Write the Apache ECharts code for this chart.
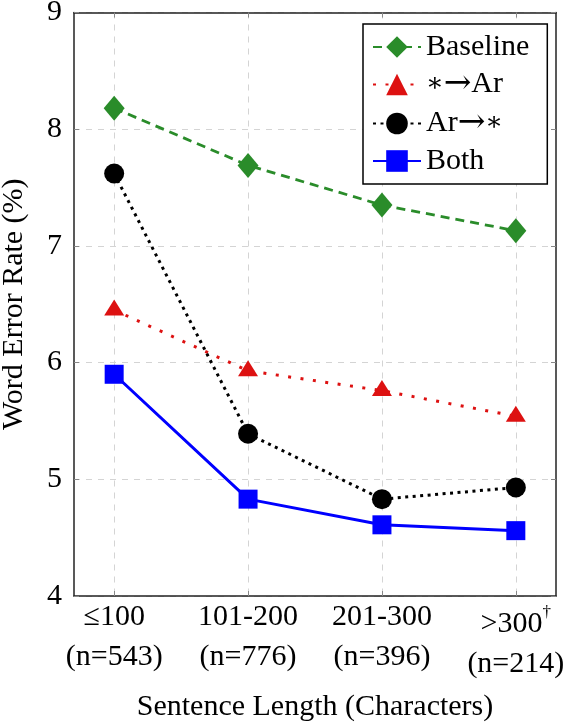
<!DOCTYPE html>
<html>
<head>
<meta charset="utf-8">
<script src="https://cdn.jsdelivr.net/npm/echarts@6/dist/echarts.min.js"></script>
<style>
html,body{margin:0;padding:0;background:#fff;}
#chart{width:564px;height:724px;}
</style>
</head>
<body>
<div id="chart"></div>
<script>
// ---- data ----
const categories = ['≤100', '101-200', '201-300', '>300'];
const categoryNotes = ['', '', '', '†'];
const sampleCounts = ['(n=543)', '(n=776)', '(n=396)', '(n=214)'];
const yTicks = [4, 5, 6, 7, 8, 9];
const seriesNames = ['Baseline', '∗→Ar', 'Ar→∗', 'Both'];
const baseline = [8.18, 7.69, 7.35, 7.13];
const toAr = [6.45, 5.93, 5.76, 5.54];
const fromAr = [7.62, 5.39, 4.83, 4.93];
const both = [5.90, 4.83, 4.61, 4.56];

const FONT = '"Liberation Serif", "DejaVu Serif", serif';
const FS = 30;
const positions = categories.map((c, i) => i + 1);
const pts = arr => arr.map((v, i) => [positions[i], v]);

function xLabel(v) {
  const i = Math.round(v) - 1;
  if (i < 0 || i >= categories.length) return '';
  if (categoryNotes[i]) {
    return '{gap| }\n{a|' + categories[i] + '}{s|' + categoryNotes[i] + '}\n{a|' + sampleCounts[i] + '}';
  }
  return '{a|' + categories[i] + '}\n{a|' + sampleCounts[i] + '}';
}
function legendLabel(name) {
  return name.replace(/∗/g, '{m|∗}').replace(/→/g, '{r|→}');
}

const chart = echarts.init(document.getElementById('chart'), null, {renderer: 'canvas'});
const gridLine = {show: true, lineStyle: {color: '#d4d4d4', width: 1, type: [6, 6]}};
const tickStyle = {show: true, inside: true, length: 5, lineStyle: {color: '#888', width: 1}};
const frameLine = {show: true, onZero: false, lineStyle: {color: '#222', width: 1.5}};

chart.setOption({
  animation: false,
  backgroundColor: '#fff',
  grid: {left: 74, right: 8, top: 12.5, bottom: 128, containLabel: false, outerBoundsMode: 'none'},
  legend: {
    orient: 'vertical',
    left: 363, top: 24,
    itemWidth: 48, itemHeight: 27, itemGap: 6,
    padding: [8, 18, 8, 9],
    borderColor: '#000', borderWidth: 1.5, borderRadius: 0,
    backgroundColor: '#fff',
    formatter: legendLabel,
    textStyle: {
      fontFamily: FONT, fontSize: FS, color: '#000', lineHeight: 30,
      rich: {
        m: {fontFamily: '"DejaVu Serif", serif', fontSize: 26, lineHeight: 30, color: '#000'},
        r: {fontFamily: '"DejaVu Serif", serif', fontSize: 33, lineHeight: 30, color: '#000'}
      }
    },
    data: seriesNames
  },
  xAxis: [{
    type: 'value', min: 0.7, max: 4.3,
    axisLine: frameLine,
    axisTick: Object.assign({customValues: positions}, tickStyle),
    splitLine: gridLine,
    axisLabel: {
      customValues: positions,
      formatter: xLabel,
      margin: 1,
      color: '#000',
      hideOverlap: false,
      rich: {
        a: {fontFamily: FONT, fontSize: FS, lineHeight: 40, color: '#000'},
        s: {fontFamily: FONT, fontSize: 17, lineHeight: 40, verticalAlign: 'top', color: '#000'},
        gap: {fontSize: 2, lineHeight: 7}
      }
    },
    name: 'Sentence Length (Characters)',
    nameLocation: 'middle', nameGap: 96,
    nameTextStyle: {fontFamily: FONT, fontSize: FS, color: '#000'}
  }, {
    type: 'value', min: 0.7, max: 4.3, position: 'top',
    axisLine: frameLine,
    axisTick: Object.assign({customValues: positions}, tickStyle),
    axisLabel: {show: false}, splitLine: {show: false}
  }],
  yAxis: [{
    type: 'value', min: yTicks[0], max: yTicks[yTicks.length - 1], interval: 1,
    axisLine: frameLine,
    axisTick: tickStyle,
    splitLine: gridLine,
    axisLabel: {fontFamily: FONT, fontSize: FS, color: '#000', margin: 12},
    name: 'Word Error Rate (%)',
    nameLocation: 'middle', nameGap: 45, nameRotate: 90,
    nameTextStyle: {fontFamily: FONT, fontSize: FS, color: '#000'}
  }, {
    type: 'value', min: yTicks[0], max: yTicks[yTicks.length - 1], interval: 1, position: 'right',
    axisLine: frameLine,
    axisTick: tickStyle,
    axisLabel: {show: false}, splitLine: {show: false}
  }],
  series: [{
    name: seriesNames[0], type: 'line', data: pts(baseline),
    symbol: 'diamond', symbolSize: [21, 25],
    lineStyle: {color: '#2a8c2a', width: 2.8, type: [9, 6]},
    itemStyle: {color: '#2a8c2a'}, z: 2
  }, {
    name: seriesNames[1], type: 'line', data: pts(toAr),
    symbol: 'triangle', symbolSize: [20, 16], symbolOffset: [0, -2.5],
    lineStyle: {color: '#dd1111', width: 3, type: [3, 9.5]},
    itemStyle: {color: '#dd1111'}, z: 3
  }, {
    name: seriesNames[2], type: 'line', data: pts(fromAr),
    symbol: 'circle', symbolSize: 20,
    lineStyle: {color: '#000', width: 3, type: [3, 4.5]},
    itemStyle: {color: '#000'}, z: 4
  }, {
    name: seriesNames[3], type: 'line', data: pts(both),
    symbol: 'rect', symbolSize: 19,
    lineStyle: {color: '#0000ff', width: 3, type: 'solid'},
    itemStyle: {color: '#0000ff'}, z: 5
  }]
});
</script>
</body>
</html>
